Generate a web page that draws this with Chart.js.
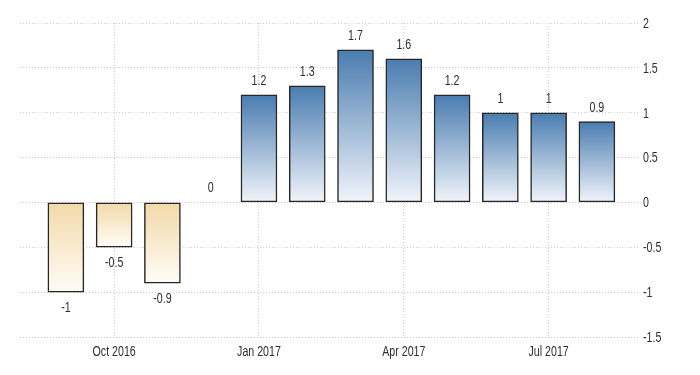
<!DOCTYPE html>
<html>
<head>
<meta charset="utf-8">
<script src="https://cdn.jsdelivr.net/npm/chart.js@4/dist/chart.umd.min.js"></script>
<style>
    html, body { margin: 0; padding: 0; background: #fff; }
    #wrap { width: 700px; height: 375px; position: relative; }
</style>
</head>
<body>
<div id="wrap"><canvas id="chart"></canvas></div>
<script>
// Monthly values, Sep 2016 - Aug 2017
const months = ['Sep 2016', 'Oct 2016', 'Nov 2016', 'Dec 2016', 'Jan 2017', 'Feb 2017',
                'Mar 2017', 'Apr 2017', 'May 2017', 'Jun 2017', 'Jul 2017', 'Aug 2017'];
const values = [-1, -0.5, -0.9, 0, 1.2, 1.3, 1.7, 1.6, 1.2, 1, 1, 0.9];
const xTickLabels = ['Oct 2016', 'Jan 2017', 'Apr 2017', 'Jul 2017'];
const yTicks = [-1.5, -1, -0.5, 0, 0.5, 1, 1.5, 2];

const FONT = "'Liberation Sans', Arial, sans-serif";
const TEXT = '#2e2e2e';
const GRID = '#cccccc';
const NARROW = 0.76; // horizontal squeeze, the original uses a narrow face

function barFill(context) {
    const chart = context.chart;
    const area = chart.chartArea;
    if (!area || !chart.scales.y) return '#4a7cb0';
    const v = context.raw.y;
    const y = chart.scales.y;
    const zero = y.getPixelForValue(0);
    const end = y.getPixelForValue(v);
    if (v >= 0) {
        const g = chart.ctx.createLinearGradient(0, end, 0, zero);
        g.addColorStop(0, '#4a7cb0');
        g.addColorStop(1, '#f1f5fb');
        return g;
    }
    const g = chart.ctx.createLinearGradient(0, zero, 0, end);
    g.addColorStop(0, '#f2d9a9');
    g.addColorStop(1, '#fffcf6');
    return g;
}

function narrowText(ctx, text, x, y, align) {
    ctx.save();
    ctx.translate(x, y);
    ctx.scale(NARROW, 1);
    ctx.textAlign = align;
    ctx.fillText(text, 0, 0);
    ctx.restore();
}

// value labels and axis labels, drawn narrow
const textLayer = {
    id: 'textLayer',
    afterDraw(chart) {
        const ctx = chart.ctx;
        const meta = chart.getDatasetMeta(0);
        ctx.save();
        ctx.font = '14px ' + FONT;
        ctx.fillStyle = TEXT;
        ctx.textBaseline = 'middle';
        meta.data.forEach((bar, i) => {
            const v = values[i];
            const y = v < 0 ? bar.y + 16 : bar.y - 14;
            narrowText(ctx, String(v), bar.x, y, 'center');
        });
        const xs = chart.scales.x;
        xs.ticks.forEach(t => {
            narrowText(ctx, months[t.value], xs.getPixelForValue(t.value), chart.chartArea.bottom + 15, 'center');
        });
        const ys = chart.scales.y;
        ys.ticks.forEach(t => {
            narrowText(ctx, String(t.value), chart.chartArea.right + 21, ys.getPixelForValue(t.value) + 1, 'left');
        });
        ctx.restore();
    }
};

new Chart(document.getElementById('chart'), {
    type: 'bar',
    data: {
        datasets: [{
            data: values.map((v, i) => ({ x: i, y: v })),
            backgroundColor: barFill,
            borderColor: '#262626',
            borderWidth: 1.5,
            borderSkipped: false,
            barThickness: 36
        }]
    },
    options: {
        responsive: true,
        maintainAspectRatio: false,
        animation: false,
        layout: { padding: { left: 20, top: 23, right: 0, bottom: 0 } },
        plugins: { legend: { display: false }, tooltip: { enabled: false } },
        scales: {
            x: {
                type: 'linear',
                offset: false,
                min: -0.95,
                max: 11.52,
                afterBuildTicks: (scale) => {
                    scale.ticks = xTickLabels.map(l => ({ value: months.indexOf(l) }));
                },
                afterFit: (scale) => { scale.height = 38; },
                ticks: { display: false },
                grid: { color: GRID, borderDash: [1, 2], drawTicks: false, offset: false },
                border: { display: false, dash: [1, 2] }
            },
            y: {
                position: 'right',
                min: -1.5,
                max: 2,
                afterBuildTicks: (scale) => {
                    scale.ticks = yTicks.map(v => ({ value: v }));
                },
                afterFit: (scale) => { scale.width = 78; },
                ticks: { display: false },
                grid: {
                    color: GRID,
                    tickColor: GRID,
                    tickLength: 18,
                    tickBorderDash: [1, 2],
                    borderDash: [1, 2]
                },
                border: { display: false, dash: [1, 2] }
            }
        }
    },
    plugins: [textLayer]
});
</script>
</body>
</html>
